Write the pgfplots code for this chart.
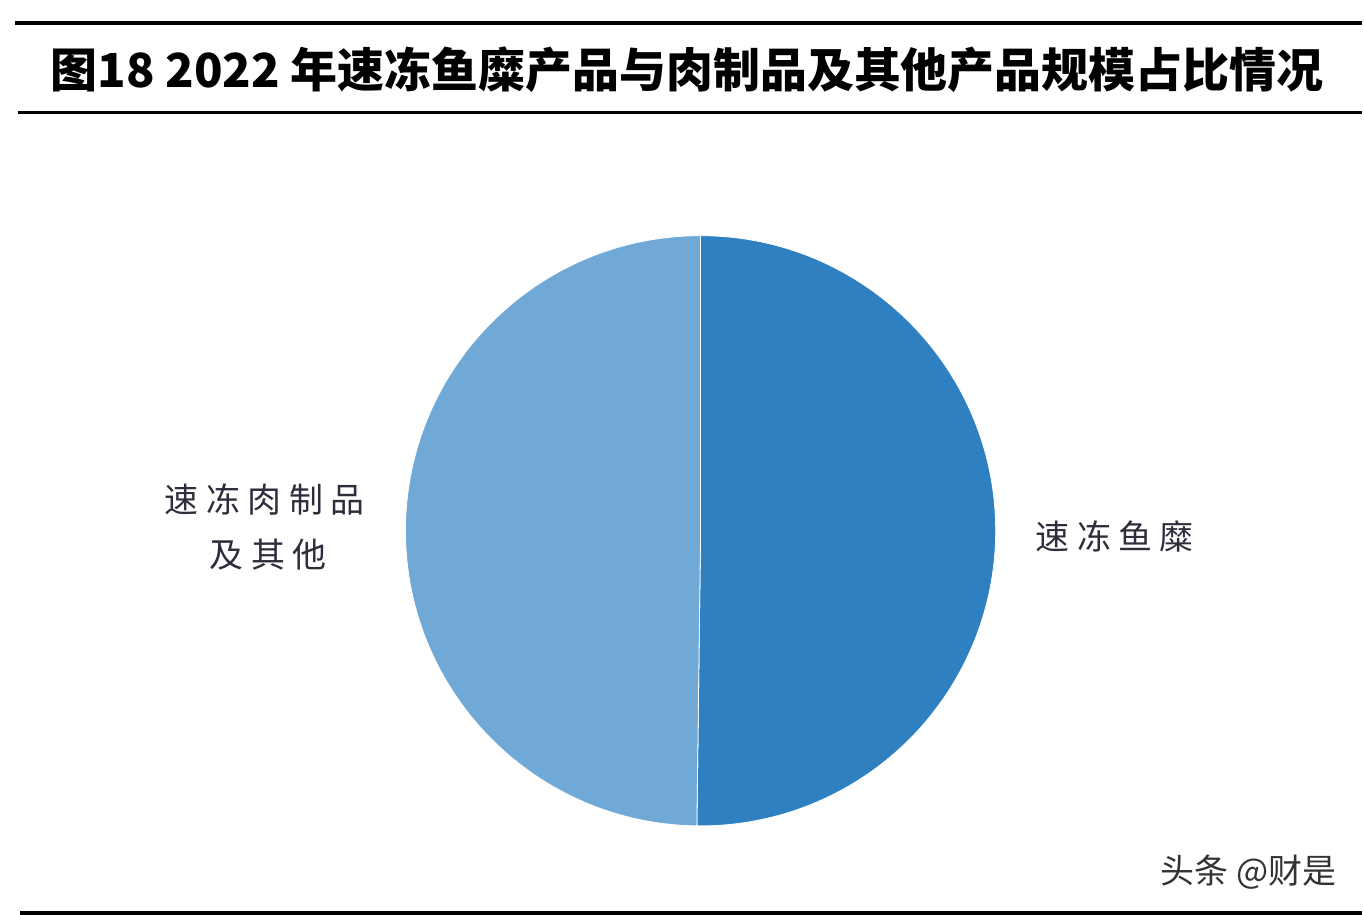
\documentclass[border=0pt]{standalone}
\usepackage{fontspec}
\usepackage{pgfplots}
\usepackage{pgfplotstable}
\pgfplotsset{compat=1.18}
\setmainfont{Noto Sans CJK SC}
\newfontfamily\cjk{Noto Sans CJK SC}
\newfontfamily\cjklab[LetterSpace=22]{Noto Sans CJK SC}
\definecolor{fishblue}{RGB}{46,128,193}
\definecolor{meatblue}{RGB}{112,168,214}
\definecolor{labtext}{RGB}{45,45,60}

% share of 2022 scale (%)
\pgfplotstableread{
name share
fish 50.2
meat 49.8
}\piedata

\begin{document}
\begin{tikzpicture}
\pgfplotstablegetelem{0}{share}\of\piedata
\pgfmathsetmacro{\fishshare}{\pgfplotsretval}
\pgfmathsetmacro{\splitangle}{90-3.6*\fishshare}
\begin{axis}[
    width=682pt, height=458pt,
    scale only axis,
    xmin=0, xmax=1364, ymin=0, ymax=916,
    hide axis,
    clip=false,
]
% page background
\fill[white] (axis cs:0,0) rectangle (axis cs:1364,916);
% title band
\draw[line width=1.6pt] (axis cs:15,893) -- (axis cs:1364,893);
\draw[line width=1.6pt] (axis cs:18,803) -- (axis cs:1364,803);
\node[font=\cjk\bfseries\fontsize{23.5pt}{28pt}\selectfont] at (axis cs:688,846)
    {图18 2022 年速冻鱼糜产品与肉制品及其他产品规模占比情况};
% pie: 速冻鱼糜 clockwise from the top, the rest after it
\fill[fishblue, draw=white, line width=0.4pt] (axis cs:701.5,384.5)
    -- ++(90:147.75pt) arc[start angle=90, end angle=\splitangle, radius=147.75pt] -- cycle;
\fill[meatblue, draw=white, line width=0.4pt] (axis cs:701.5,384.5)
    -- ++(\splitangle:147.75pt) arc[start angle=\splitangle, end angle=-270, radius=147.75pt] -- cycle;
% slice labels
\node[anchor=west, text=labtext, font=\cjklab\fontsize{17pt}{20pt}\selectfont]
    at (axis cs:1030,379) {速冻鱼糜};
\node[anchor=west, text=labtext, font=\cjklab\fontsize{17pt}{20pt}\selectfont]
    at (axis cs:158,416) {速冻肉制品};
\node[anchor=west, text=labtext, font=\cjklab\fontsize{17pt}{20pt}\selectfont]
    at (axis cs:203,361) {及其他};
% watermark and bottom rule
\node[anchor=west, text=black!80, font=\cjk\fontsize{17pt}{20pt}\selectfont]
    at (axis cs:1155,43) {头条 @财是};
\draw[line width=1.8pt] (axis cs:20,2) -- (axis cs:1364,2);
\end{axis}
\end{tikzpicture}
\end{document}
